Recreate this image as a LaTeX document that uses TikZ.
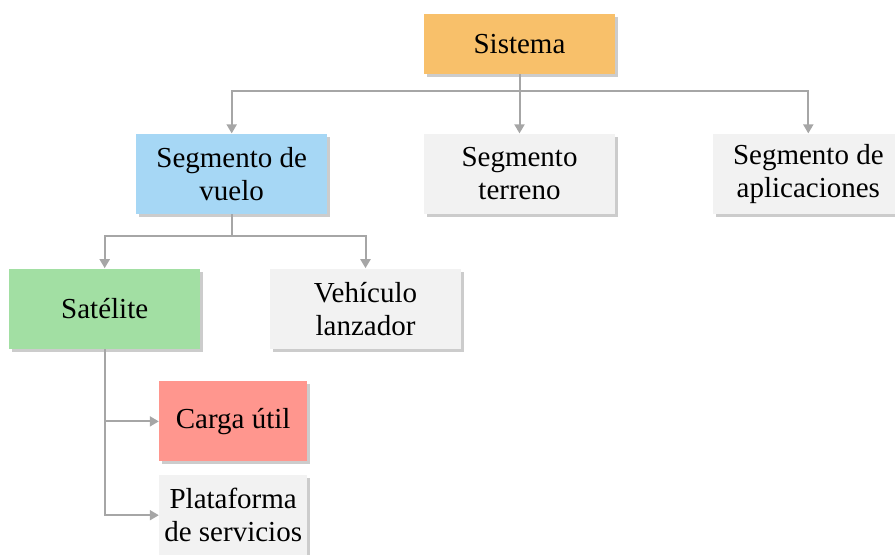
\documentclass[tikz,border=0pt]{standalone}
\usepackage{fontspec}
\setmainfont{Liberation Serif}
\usepackage{xcolor}
\usepackage{tikz}
\usetikzlibrary{arrows.meta, positioning, shadows}
\definecolor{naranja}{RGB}{248,192,106}
\definecolor{azul}{RGB}{166,215,245}
\definecolor{verde}{RGB}{162,223,163}
\definecolor{rojo}{RGB}{255,150,142}
\definecolor{grisclaro}{RGB}{242,242,242}
\definecolor{linea}{RGB}{166,166,166}
\tikzset{
  box/.style={rectangle, minimum height=40pt, minimum width=95.5pt, align=center, inner sep=2pt,
    font=\fontsize{14.5}{16.5}\selectfont,
    drop shadow={shadow xshift=1.5pt, shadow yshift=-1.5pt, fill=black!40, opacity=.5}},
  conn/.style={draw=linea, line width=1pt},
  arrow/.style={conn, -{Triangle[width=5pt,length=4.5pt]}},
}

\begin{document}
\begin{tikzpicture}[x=0.5pt,y=-0.5pt]
    \useasboundingbox (0,0) rectangle (895,555);
    \node[box, fill=naranja, minimum height=30pt] (sistema) at (519.5,44) {Sistema};
    \node[box, fill=grisclaro, below=29.5pt of sistema] (terreno) {Segmento\\terreno};
    \node[box, fill=azul, left=48pt of terreno] (vuelo) {Segmento de\\vuelo};
    \node[box, fill=grisclaro, right=48.5pt of terreno] (aplic) {Segmento de\\aplicaciones};
    \node[box, fill=verde, below=27pt of vuelo, xshift=-63.5pt] (satelite) {Satélite};
    \node[box, fill=grisclaro, right=34.5pt of satelite] (lanzador) {Vehículo\\lanzador};
    \node[box, fill=rojo, minimum width=74pt, below=16pt of satelite, xshift=64.25pt] (carga) {Carga útil};
    \node[box, fill=grisclaro, minimum width=74pt, below=6.5pt of carga] (plataforma) {Plataforma\\de servicios};
    % lineas del arbol
    \coordinate (j1) at ([yshift=-8.5pt]sistema.south);
    \coordinate (j2) at ([yshift=-11pt]vuelo.south);
    \draw[conn] (sistema.south) -- (j1);
    \draw[arrow] (j1) -| (vuelo.north);
    \draw[arrow] (j1) -- (terreno.north);
    \draw[arrow] (j1) -| (aplic.north);
    \draw[conn] (vuelo.south) -- (j2);
    \draw[arrow] (j2) -| (satelite.north);
    \draw[arrow] (j2) -| (lanzador.north);
    \draw[arrow] (satelite.south) |- (carga.west);
    \draw[arrow] (satelite.south) |- (plataforma.west);
  \end{tikzpicture}
\end{document}
